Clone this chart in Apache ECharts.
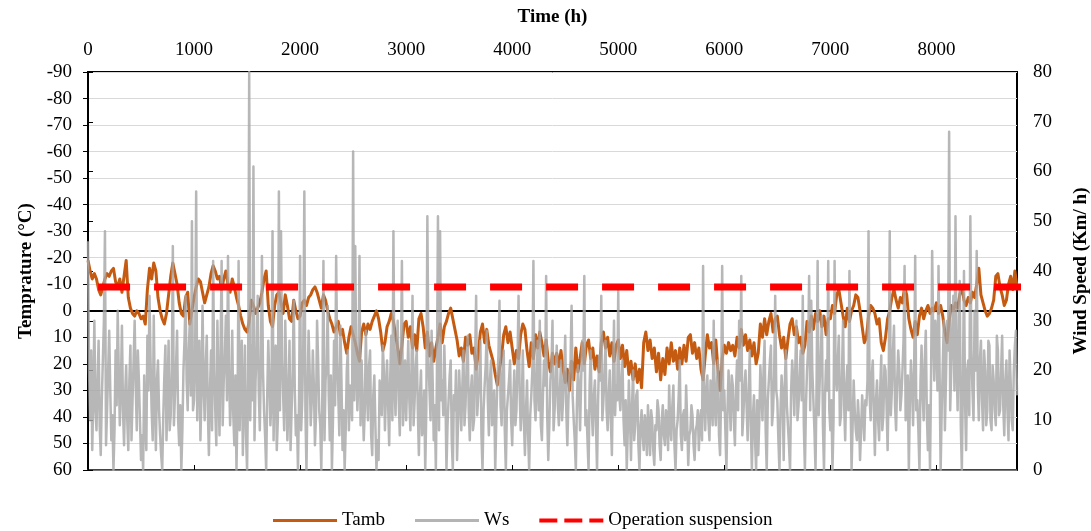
<!DOCTYPE html>
<html>
<head>
<meta charset="utf-8">
<script src="https://cdn.jsdelivr.net/npm/echarts@6/dist/echarts.min.js"></script>
<style>
html, body { margin: 0; padding: 0; background: #fff; }
#chart { width: 1091px; height: 531px; }
</style>
</head>
<body>
<div id="chart"></div>
<script>
// values; temperature every 20 h, wind every 10 h
var tambStepH = 20;
var wsStepH = 10;

// ambient temperature (°C), one row per 1000 h
var tamb = [
  -19,-15,-12,-14,-12,-8,-6,-9,-12,-14,-13,-15,-16,-11,-9,-12,-7,-13,-19,-5,-1,1,2,0,1,3,2,5,-8,-16,-12,-18,-15,-5,0,3,5,1,-6,-13,-18,-14,-10,-3,1,2,-5,-7,5,0,
  -5,-9,-12,-11,-7,-3,-6,-9,-14,-17,-15,-12,-13,-8,-12,-15,-10,-7,-12,-9,-5,-2,2,5,7,8,4,-4,-2,1,-1,-3,-7,-12,-15,-2,4,6,-2,-6,-7,-3,1,-6,-2,3,4,-4,0,3,
  2,-3,-4,-2,-5,-6,-8,-9,-7,-4,-1,-6,-4,0,3,5,8,6,4,9,7,12,16,10,6,9,12,16,19,8,5,9,5,7,4,2,0,3,8,15,12,6,4,1,4,9,14,20,13,5,
  4,10,6,14,9,15,3,1,6,14,8,17,12,19,14,10,5,12,6,4,1,-1,3,7,11,17,14,19,10,13,9,16,14,22,16,8,5,12,7,13,16,19,24,28,22,17,9,6,12,8,
  14,20,15,18,9,5,7,15,21,12,18,9,14,8,12,17,11,19,23,16,20,16,21,15,22,27,22,30,19,26,14,23,18,12,20,13,11,18,14,22,17,23,12,8,14,10,17,12,19,13,
  11,18,13,21,15,24,19,26,20,27,22,29,12,8,15,11,18,14,23,16,26,18,24,14,20,12,19,15,22,14,20,13,19,10,9,16,12,18,14,22,26,17,9,14,12,20,11,22,30,18,
  13,16,12,15,13,17,10,14,7,13,9,15,11,17,12,20,16,5,10,3,9,4,1,8,3,2,9,14,10,18,11,5,3,9,6,12,10,16,13,4,8,2,7,1,4,0,6,2,9,3,
  3,-2,1,-6,-8,-3,2,6,-1,4,0,-2,-6,-5,0,6,12,10,2,-2,-1,1,5,3,12,15,10,3,0,-5,-8,-4,-1,-5,-3,-9,-6,3,7,10,4,9,2,-1,3,0,-2,1,-1,0,
  -3,1,-2,2,8,12,4,-2,0,-3,-1,-6,-9,-4,-2,-5,-3,-7,-5,-10,-16,-6,-3,0,2,1,-1,-4,-13,-14,-9,-6,-2,-4,-10,-13,-8,-15,-9
];

// wind speed (km/h), one row per 1000 h
var ws = [
  46,20,10,24,4,15,30,12,8,18,26,9,3,14,22,30,48,5,12,20,28,16,6,11,0,8,24,13,32,20,9,17,29,12,5,15,21,10,4,18,25,6,14,22,30,17,8,24,18,10,
  2,7,0,19,10,4,27,16,35,22,12,6,31,14,4,18,22,12,7,3,0,11,19,25,6,15,26,8,11,20,45,9,15,21,28,10,5,13,0,8,20,26,35,18,12,24,30,15,50,12,
  14,22,56,10,20,26,6,15,33,18,10,21,27,12,3,16,24,8,42,20,12,5,30,17,7,24,42,9,18,23,31,14,43,20,9,15,28,11,5,19,0,13,42,8,20,26,3,14,25,7,
  0,18,80,10,25,14,61,6,18,24,35,16,8,21,43,20,12,7,0,15,26,18,9,14,48,6,20,25,4,10,56,12,48,22,15,8,30,19,6,13,26,4,12,20,34,16,7,11,0,14,
  43,8,14,25,56,12,0,16,28,20,9,14,24,17,5,11,30,22,12,9,0,16,42,6,18,21,33,15,6,19,0,10,26,13,43,22,15,7,29,18,4,12,0,8,20,24,8,17,15,10,
  64,14,45,20,12,18,43,9,22,14,6,12,28,16,10,21,24,7,3,15,19,9,0,6,2,18,14,11,25,20,8,16,22,13,5,19,27,10,48,17,11,23,30,14,7,20,42,9,15,22,
  10,18,26,14,8,20,35,9,14,21,24,12,3,15,20,7,9,16,0,12,51,22,16,10,28,18,6,13,0,19,51,8,48,14,18,11,25,16,0,9,14,19,22,6,0,15,12,20,2,10,
  20,14,8,17,24,9,13,21,27,12,6,16,19,8,10,22,35,11,15,18,26,7,0,12,17,21,28,14,7,18,22,9,11,16,0,10,18,23,34,13,9,19,24,8,0,12,15,18,22,10,
  5,14,20,9,12,22,35,16,8,13,24,10,3,12,18,7,0,11,15,20,42,14,10,18,26,12,30,9,6,15,22,17,39,11,2,9,18,21,30,8,12,19,25,13,9,16,22,10,14,20,
  27,12,5,14,19,22,33,15,10,6,0,13,21,16,8,18,26,20,39,9,12,6,0,17,24,12,7,15,18,9,0,14,23,18,35,10,14,19,26,12,8,15,20,10,3,18,30,11,17,14,
  36,15,12,18,22,10,5,14,0,8,18,11,2,13,20,6,9,15,16,5,0,9,12,7,4,11,9,3,13,8,3,12,10,4,1,9,8,14,12,5,2,10,13,7,5,12,11,4,17,9,
  6,13,17,5,0,8,10,15,22,7,4,11,12,6,17,10,1,7,8,13,11,5,2,8,9,12,4,10,12,6,41,14,8,16,19,10,6,18,14,9,30,13,9,17,22,7,3,15,41,12,
  16,8,0,12,20,14,8,19,17,10,5,16,22,12,30,18,39,7,11,17,20,13,6,15,24,9,0,11,15,6,0,14,3,10,21,16,10,20,26,8,0,14,18,22,25,9,12,19,35,16,
  14,6,0,12,19,15,2,17,24,13,9,5,0,16,22,18,11,21,30,10,13,19,24,14,35,9,0,13,20,24,39,12,34,20,14,8,0,17,42,11,18,23,31,9,0,15,22,16,42,12,
  8,14,0,10,42,19,16,22,27,9,11,20,30,13,6,17,21,12,40,16,0,9,18,12,8,6,14,10,2,8,15,11,6,14,13,18,48,15,10,19,22,12,3,14,18,10,6,16,23,8,
  11,21,20,13,4,17,48,11,16,24,29,13,8,18,24,20,12,15,20,26,41,10,15,19,0,14,22,17,9,20,43,12,14,8,0,18,25,15,10,22,28,11,4,13,0,20,44,27,18,30,
  26,16,41,20,0,12,21,30,8,18,30,24,68,12,20,28,35,16,51,22,12,26,38,9,0,18,40,14,4,20,22,11,51,24,16,10,32,20,44,17,
  10,22,26,14,8,24,20,9,12,26,25,10,8,21,18,12,9,27,24,11,12,20,27,13,7,18,22,12,6,24,18,10,8,20,25,28,15
];

// operation suspension threshold
var suspTemp = -9;
var suspHours = [95, 8835];

function toPairs(vals, step) {
  return vals.map(function (v, i) { return [i * step, v]; });
}

var font = 'Liberation Serif';
var myChart = echarts.init(document.getElementById('chart'));

var option = {
  animation: false,
  textStyle: { fontFamily: font, color: '#000' },
  grid: {
    left: 88, right: 74, top: 72, bottom: 61,
    outerBoundsMode: 'none',
    show: true, borderColor: '#000', borderWidth: 2
  },
  legend: {
    left: 273, top: 511, padding: 0,
    itemWidth: 64, itemHeight: 20, itemGap: 30,
    textStyle: { fontFamily: font, fontSize: 19, color: '#000' },
    data: [
      { name: 'Tamb', icon: 'path://M0,0h64v3h-64z', itemStyle: { color: '#c55a11' } },
      { name: 'Ws', icon: 'path://M0,0h64v3h-64z', itemStyle: { color: '#b4b4b4' } },
      { name: 'Operation suspension', icon: 'path://M0,0h18v4h-18zM25,0h18v4h-18zM50,0h14v4h-14z', itemStyle: { color: '#ff0000' } }
    ]
  },
  xAxis: [
    {
      type: 'value', position: 'top',
      min: 0, max: 8760, interval: 1000,
      name: 'Time (h)', nameLocation: 'middle', nameGap: 45,
      nameTextStyle: { fontFamily: font, fontWeight: 'bold', fontSize: 19, color: '#000' },
      axisLine: { show: true, lineStyle: { color: '#000', width: 2 } },
      axisTick: { show: false },
      axisLabel: {
        fontFamily: font, fontSize: 19, color: '#000', margin: 12, showMaxLabel: false,
        formatter: function (v) { return String(v); }
      },
      splitLine: { show: false }
    },
    {
      // axis line across temperature zero
      type: 'value', position: 'bottom',
      min: 0, max: 8760, interval: 1000,
      axisLine: { show: true, onZero: true, lineStyle: { color: '#595959', width: 1.5 } },
      axisTick: { show: true, inside: true, length: 5, lineStyle: { color: '#000' } },
      axisLabel: { show: false },
      splitLine: { show: false }
    }
  ],
  yAxis: [
    {
      type: 'value', inverse: true,
      min: -90, max: 60, interval: 10,
      name: 'Temprature (°C)', nameLocation: 'middle', nameGap: 51, nameRotate: 90,
      nameTextStyle: { fontFamily: font, fontWeight: 'bold', fontSize: 19, color: '#000' },
      axisLine: { show: true, lineStyle: { color: '#000', width: 2 } },
      axisTick: { show: true, length: 5, lineStyle: { color: '#000' } },
      axisLabel: { fontFamily: font, fontSize: 19, color: '#000', margin: 16 },
      splitLine: { show: true, lineStyle: { color: '#d9d9d9', width: 1 } }
    },
    {
      type: 'value', position: 'right',
      min: 0, max: 80, interval: 10,
      name: 'Wind Speed (Km/ h)', nameLocation: 'middle', nameGap: 55, nameRotate: 90,
      nameTextStyle: { fontFamily: font, fontWeight: 'bold', fontSize: 19, color: '#000' },
      axisLine: { show: true, lineStyle: { color: '#000', width: 1.5 } },
      axisTick: { show: true, length: 5, lineStyle: { color: '#000' } },
      axisLabel: { fontFamily: font, fontSize: 19, color: '#000', margin: 16 },
      splitLine: { show: false }
    }
  ],
  series: [
    {
      name: 'Tamb', type: 'line',
      xAxisIndex: 0, yAxisIndex: 0,
      data: toPairs(tamb, tambStepH),
      symbol: 'none',
      lineStyle: { color: '#c55a11', width: 3, join: 'round' },
      itemStyle: { color: '#c55a11' },
      z: 2
    },
    {
      name: 'Ws', type: 'line',
      xAxisIndex: 0, yAxisIndex: 1,
      data: toPairs(ws, wsStepH),
      symbol: 'none',
      lineStyle: { color: 'rgb(167,167,167)', width: 2.5, opacity: 0.82, join: 'round' },
      itemStyle: { color: '#b4b4b4' },
      z: 3
    },
    {
      name: 'Operation suspension', type: 'line',
      xAxisIndex: 1, yAxisIndex: 0,
      data: suspHours.map(function (h) { return [h, suspTemp]; }),
      symbol: 'none', clip: false,
      lineStyle: { color: '#ff0000', width: 7, type: [32, 24], cap: 'butt' },
      itemStyle: { color: '#ff0000' },
      z: 4
    }
  ]
};

myChart.setOption(option);
</script>
</body>
</html>
